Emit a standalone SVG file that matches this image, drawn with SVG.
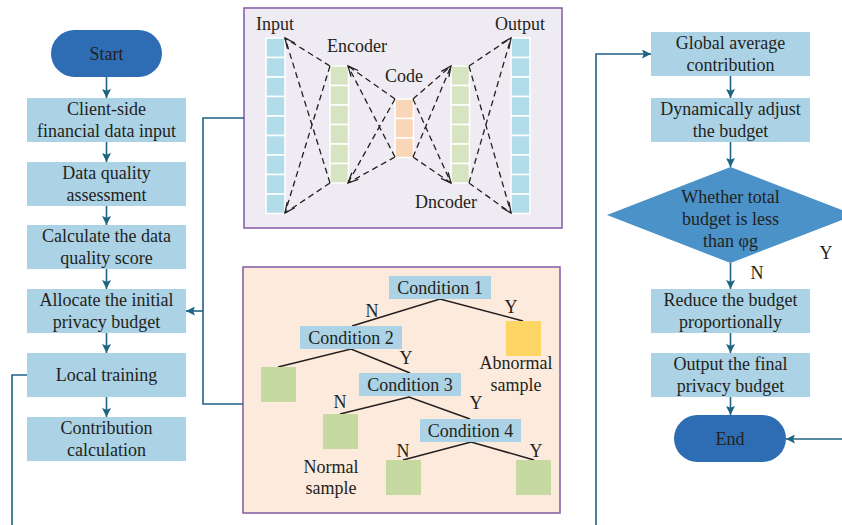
<svg xmlns="http://www.w3.org/2000/svg" width="842" height="525" viewBox="0 0 842 525">
  <style>
    text { font-family: "Liberation Serif", "Times New Roman", serif; font-size: 18px; fill: #231f20; text-anchor: middle; }
    .box { fill: #abd3e5; }
    .term { fill: #2e6db4; }
    .dia { fill: #4a92c8; }
    .flow { fill: none; stroke: #1f6385; stroke-width: 1.6; }
    .frame { stroke: #8b62aa; stroke-width: 1.6; }
    .cell { stroke: #ffffff; stroke-width: 1.5; }
    .inp { fill: #b3dcea; }
    .enc { fill: #d7e4c1; }
    .code { fill: #fad6b9; }
    .dash { fill: none; stroke: #231f20; stroke-width: 1.3; stroke-dasharray: 6 4; }
    .head { fill: none; stroke: #231f20; stroke-width: 1.3; }
    .edge { fill: none; stroke: #231f20; stroke-width: 1.5; }
    .cond { fill: #abd3e5; }
    .leaf { fill: #c5d9a0; }
  </style>
  <defs>
    <marker id="arr" viewBox="0 0 10 10" refX="10" refY="5" markerWidth="9" markerHeight="9" markerUnits="userSpaceOnUse" orient="auto">
      <path d="M0,0 L10,5 L0,10 L2,5 z" fill="#1f6385"/>
    </marker>
  </defs>

  <rect width="842" height="525" fill="#ffffff"/>

  <!-- Left column -->
  <g id="start">
    <rect class="term" x="51" y="30" width="111" height="47" rx="23.5"/>
    <text x="106.5" y="60">Start</text>
  </g>
  <g id="data-input">
    <rect class="box" x="27" y="98" width="159" height="44"/>
    <text x="106.5" y="115">Client-side</text>
    <text x="106.5" y="137">financial data input</text>
  </g>
  <g id="quality-assessment">
    <rect class="box" x="27" y="162" width="159" height="44"/>
    <text x="106.5" y="179">Data quality</text>
    <text x="106.5" y="201">assessment</text>
  </g>
  <g id="quality-score">
    <rect class="box" x="27" y="225" width="159" height="44"/>
    <text x="106.5" y="242">Calculate the data</text>
    <text x="106.5" y="264">quality score</text>
  </g>
  <g id="initial-budget">
    <rect class="box" x="27" y="289" width="159" height="44"/>
    <text x="106.5" y="306">Allocate the initial</text>
    <text x="106.5" y="328">privacy budget</text>
  </g>
  <g id="local-training">
    <rect class="box" x="27" y="353" width="159" height="44"/>
    <text x="106.5" y="381">Local training</text>
  </g>
  <g id="contribution">
    <rect class="box" x="27" y="417" width="159" height="44"/>
    <text x="106.5" y="434">Contribution</text>
    <text x="106.5" y="456">calculation</text>
  </g>

  <!-- Autoencoder panel -->
  <g id="autoencoder">
    <rect class="frame" x="244" y="8" width="318" height="220" fill="#eeebf2"/>
    <g class="inp cell">
      <rect x="266" y="38" width="19" height="19.5"/>
      <rect x="266" y="57.5" width="19" height="19.5"/>
      <rect x="266" y="77" width="19" height="19.5"/>
      <rect x="266" y="96.5" width="19" height="19.5"/>
      <rect x="266" y="116" width="19" height="19.5"/>
      <rect x="266" y="135.5" width="19" height="19.5"/>
      <rect x="266" y="155" width="19" height="19.5"/>
      <rect x="266" y="174.5" width="19" height="19.5"/>
      <rect x="266" y="194" width="19" height="19.5"/>
    </g>
    <g class="enc cell">
      <rect x="330" y="66" width="18.5" height="19.5"/>
      <rect x="330" y="85.5" width="18.5" height="19.5"/>
      <rect x="330" y="105" width="18.5" height="19.5"/>
      <rect x="330" y="124.5" width="18.5" height="19.5"/>
      <rect x="330" y="144" width="18.5" height="19.5"/>
      <rect x="330" y="163.5" width="18.5" height="19.5"/>
    </g>
    <g class="code cell">
      <rect x="395" y="99" width="18.5" height="19.5"/>
      <rect x="395" y="118.5" width="18.5" height="19.5"/>
      <rect x="395" y="138" width="18.5" height="19.5"/>
    </g>
    <g class="enc cell">
      <rect x="451" y="66" width="18.5" height="19.5"/>
      <rect x="451" y="85.5" width="18.5" height="19.5"/>
      <rect x="451" y="105" width="18.5" height="19.5"/>
      <rect x="451" y="124.5" width="18.5" height="19.5"/>
      <rect x="451" y="144" width="18.5" height="19.5"/>
      <rect x="451" y="163.5" width="18.5" height="19.5"/>
    </g>
    <g class="inp cell">
      <rect x="511" y="38" width="19" height="19.5"/>
      <rect x="511" y="57.5" width="19" height="19.5"/>
      <rect x="511" y="77" width="19" height="19.5"/>
      <rect x="511" y="96.5" width="19" height="19.5"/>
      <rect x="511" y="116" width="19" height="19.5"/>
      <rect x="511" y="135.5" width="19" height="19.5"/>
      <rect x="511" y="155" width="19" height="19.5"/>
      <rect x="511" y="174.5" width="19" height="19.5"/>
      <rect x="511" y="194" width="19" height="19.5"/>
    </g>
    <!-- dashed links between layers -->
    <path class="dash" d="M330,66 L285,38 M330,183 L285,38 M330,66 L285,213 M330,183 L285,213"/>
    <path class="dash" d="M395,99 L348,66 M395,157 L348,66 M395,99 L348,183 M395,157 L348,183"/>
    <path class="dash" d="M413,99 L451,66 M413,157 L451,66 M413,99 L451,183 M413,157 L451,183"/>
    <path class="dash" d="M469,66 L511,38 M469,183 L511,38 M469,66 L511,213 M469,183 L511,213"/>
    <!-- open arrowheads -->
    <path class="head" d="M294.8,43 L285,38 L287.4,48.7"/>
    <path class="head" d="M294.7,207.8 L285,213 L287.2,202.2"/>
    <path class="head" d="M358.1,70.5 L348,66 L351,76.6"/>
    <path class="head" d="M358.4,179.3 L348,183 L351.8,172.7"/>
    <path class="head" d="M448.9,76.8 L451,66 L441.4,71.4"/>
    <path class="head" d="M448.2,172.4 L451,183 L441,178.4"/>
    <path class="head" d="M508.9,48.8 L511,38 L501.4,43.3"/>
    <path class="head" d="M509.1,202.2 L511,213 L501.5,207.5"/>
    <text x="275" y="30">Input</text>
    <text x="357" y="52">Encoder</text>
    <text x="404" y="82">Code</text>
    <text x="520" y="30">Output</text>
    <text x="446" y="208">Dncoder</text>
  </g>

  <!-- Decision tree panel -->
  <g id="decision-tree">
    <rect class="frame" x="243" y="267" width="317" height="246" fill="#fceadc"/>
    <path class="edge" d="M352,326 L440,299 L523,321"/>
    <path class="edge" d="M278,367 L351,349 L410,373"/>
    <path class="edge" d="M340,414 L409,397 L470,419"/>
    <path class="edge" d="M403,460 L471,442 L534,460"/>
    <rect class="cond" x="389" y="276" width="102" height="23"/>
    <text x="440" y="294">Condition 1</text>
    <rect class="cond" x="300" y="326" width="102" height="23"/>
    <text x="351" y="344">Condition 2</text>
    <rect class="cond" x="359" y="373" width="102" height="23"/>
    <text x="410" y="391">Condition 3</text>
    <rect class="cond" x="420" y="419" width="101" height="23"/>
    <text x="470.5" y="437">Condition 4</text>
    <rect x="506" y="321" width="35" height="35" fill="#fdd565"/>
    <rect class="leaf" x="261" y="367" width="35" height="35"/>
    <rect class="leaf" x="323" y="414" width="35" height="35"/>
    <rect class="leaf" x="386" y="460" width="35" height="35"/>
    <rect class="leaf" x="516" y="460" width="35" height="35"/>
    <text x="372" y="317">N</text>
    <text x="511" y="313">Y</text>
    <text x="406" y="364">Y</text>
    <text x="340" y="408">N</text>
    <text x="476" y="409">Y</text>
    <text x="403" y="457">N</text>
    <text x="536" y="457">Y</text>
    <text x="516" y="369">Abnormal</text>
    <text x="516" y="391">sample</text>
    <text x="331" y="473">Normal</text>
    <text x="331" y="494">sample</text>
  </g>

  <!-- Right column -->
  <g id="global-contribution">
    <rect class="box" x="651" y="32" width="159" height="44"/>
    <text x="730.5" y="49">Global average</text>
    <text x="730.5" y="71">contribution</text>
  </g>
  <g id="adjust-budget">
    <rect class="box" x="651" y="98" width="159" height="44"/>
    <text x="730.5" y="115">Dynamically adjust</text>
    <text x="730.5" y="137">the budget</text>
  </g>
  <g id="budget-check">
    <polygon class="dia" points="730.5,167 855,215 730.5,263 607,215"/>
    <text x="730.5" y="203">Whether total</text>
    <text x="730.5" y="225">budget is less</text>
    <text x="730.5" y="247">than φg</text>
  </g>
  <g id="reduce-budget">
    <rect class="box" x="651" y="289" width="159" height="44"/>
    <text x="730.5" y="306">Reduce the budget</text>
    <text x="730.5" y="328">proportionally</text>
  </g>
  <g id="final-budget">
    <rect class="box" x="651" y="353" width="159" height="44"/>
    <text x="730.5" y="370">Output the final</text>
    <text x="730.5" y="392">privacy budget</text>
  </g>
  <g id="end">
    <rect class="term" x="674" y="415" width="112" height="47" rx="23.5"/>
    <text x="730" y="445">End</text>
  </g>

  <!-- Connectors -->
  <g id="connectors">
    <path class="flow" d="M106.5,77 V98" marker-end="url(#arr)"/>
    <path class="flow" d="M106.5,142 V162" marker-end="url(#arr)"/>
    <path class="flow" d="M106.5,206 V225" marker-end="url(#arr)"/>
    <path class="flow" d="M106.5,269 V289" marker-end="url(#arr)"/>
    <path class="flow" d="M106.5,333 V353" marker-end="url(#arr)"/>
    <path class="flow" d="M106.5,397 V417" marker-end="url(#arr)"/>
    <path class="flow" d="M244,118 H203 V404 H243"/>
    <path class="flow" d="M203,311 H186" marker-end="url(#arr)"/>
    <path class="flow" d="M27,375 H12 V525"/>
    <path class="flow" d="M596,525 V54 H651" marker-end="url(#arr)"/>
    <path class="flow" d="M730.5,76 V98" marker-end="url(#arr)"/>
    <path class="flow" d="M730.5,142 V167" marker-end="url(#arr)"/>
    <path class="flow" d="M730.5,263 V289" marker-end="url(#arr)"/>
    <path class="flow" d="M730.5,333 V353" marker-end="url(#arr)"/>
    <path class="flow" d="M730.5,397 V415" marker-end="url(#arr)"/>
    <path class="flow" d="M842,439 H786" marker-end="url(#arr)"/>
    <text x="826" y="259">Y</text>
    <text x="757" y="279">N</text>
  </g>
</svg>
